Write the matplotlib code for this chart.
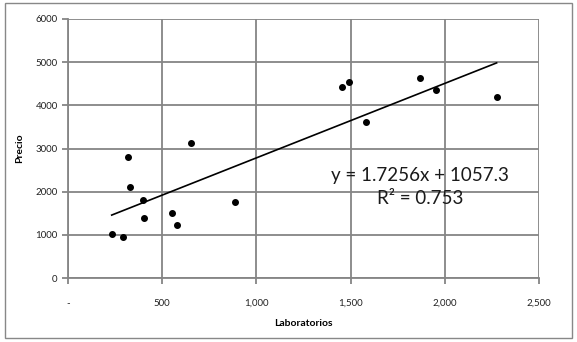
import matplotlib
matplotlib.use("Agg")
import matplotlib.pyplot as plt
from matplotlib.patches import Rectangle
from matplotlib.ticker import FixedLocator, FixedFormatter

# Data
laboratorios = [232, 294, 320, 329, 396, 405, 554, 577, 653, 888,
                1453, 1493, 1582, 1868, 1953, 2275]
precio = [1012, 956, 2808, 2100, 1806, 1396, 1497, 1227, 3132, 1766,
          4428, 4544, 3618, 4630, 4352, 4197]
slope = 1.7256
intercept = 1057.3
r2 = 0.753
x_ticks = [0, 500, 1000, 1500, 2000, 2500]
x_tick_labels = ["-", "500", "1,000", "1,500", "2,000", "2,500"]
y_ticks = [0, 1000, 2000, 3000, 4000, 5000, 6000]
y_tick_labels = ["0", "1000", "2000", "3000", "4000", "5000", "6000"]

plt.rcParams['font.family'] = ['Lato', 'DejaVu Sans']

W, H = 577, 342
fig = plt.figure(figsize=(W / 100, H / 100), dpi=100)
fig.patches.append(Rectangle((5 / W, 1 - 338 / H), 567 / W, 335 / H,
                             transform=fig.transFigure, fill=False,
                             edgecolor="#888888", linewidth=1.0))

left, right, top, bottom = 68, 539, 19, 278
ax = fig.add_axes([left / W, 1 - bottom / H, (right - left) / W, (bottom - top) / H])
ax.set_xlim(0, 2500)
ax.set_ylim(0, 6000)

ax.xaxis.set_major_locator(FixedLocator(x_ticks))
ax.xaxis.set_major_formatter(FixedFormatter(x_tick_labels))
ax.yaxis.set_major_locator(FixedLocator(y_ticks))
ax.yaxis.set_major_formatter(FixedFormatter(y_tick_labels))

ax.grid(True, color="#858585", linewidth=1.3)
ax.set_axisbelow(True)
for s in ["top", "right"]:
    ax.spines[s].set_visible(False)
for s in ["left", "bottom"]:
    ax.spines[s].set_color("#858585")
    ax.spines[s].set_linewidth(1.3)
ax.tick_params(axis="both", colors="#858585", labelcolor="#222222",
               labelsize=7, length=4, width=1.3)
ax.tick_params(axis="x", pad=11)

ax.plot(laboratorios, precio, "o", color="black", markersize=4.0, zorder=3)
x0, x1 = min(laboratorios), max(laboratorios)
ax.plot([x0, x1], [slope * x0 + intercept, slope * x1 + intercept],
        color="black", linewidth=1.2, zorder=3)

ax.text(1870, 2380, f"y = {slope}x + {intercept}", fontsize=13.5,
        ha="center", va="center", color="#1a1a1a")
ax.text(1870, 1840, f"R² = {r2}", fontsize=13.5,
        ha="center", va="center", color="#1a1a1a")

ax.set_xlabel("Laboratorios", fontsize=7.5, fontweight="bold", labelpad=8)
ax.set_ylabel("Precio", fontsize=7.5, fontweight="bold", labelpad=8)

fig.savefig("out.png", dpi=100)
